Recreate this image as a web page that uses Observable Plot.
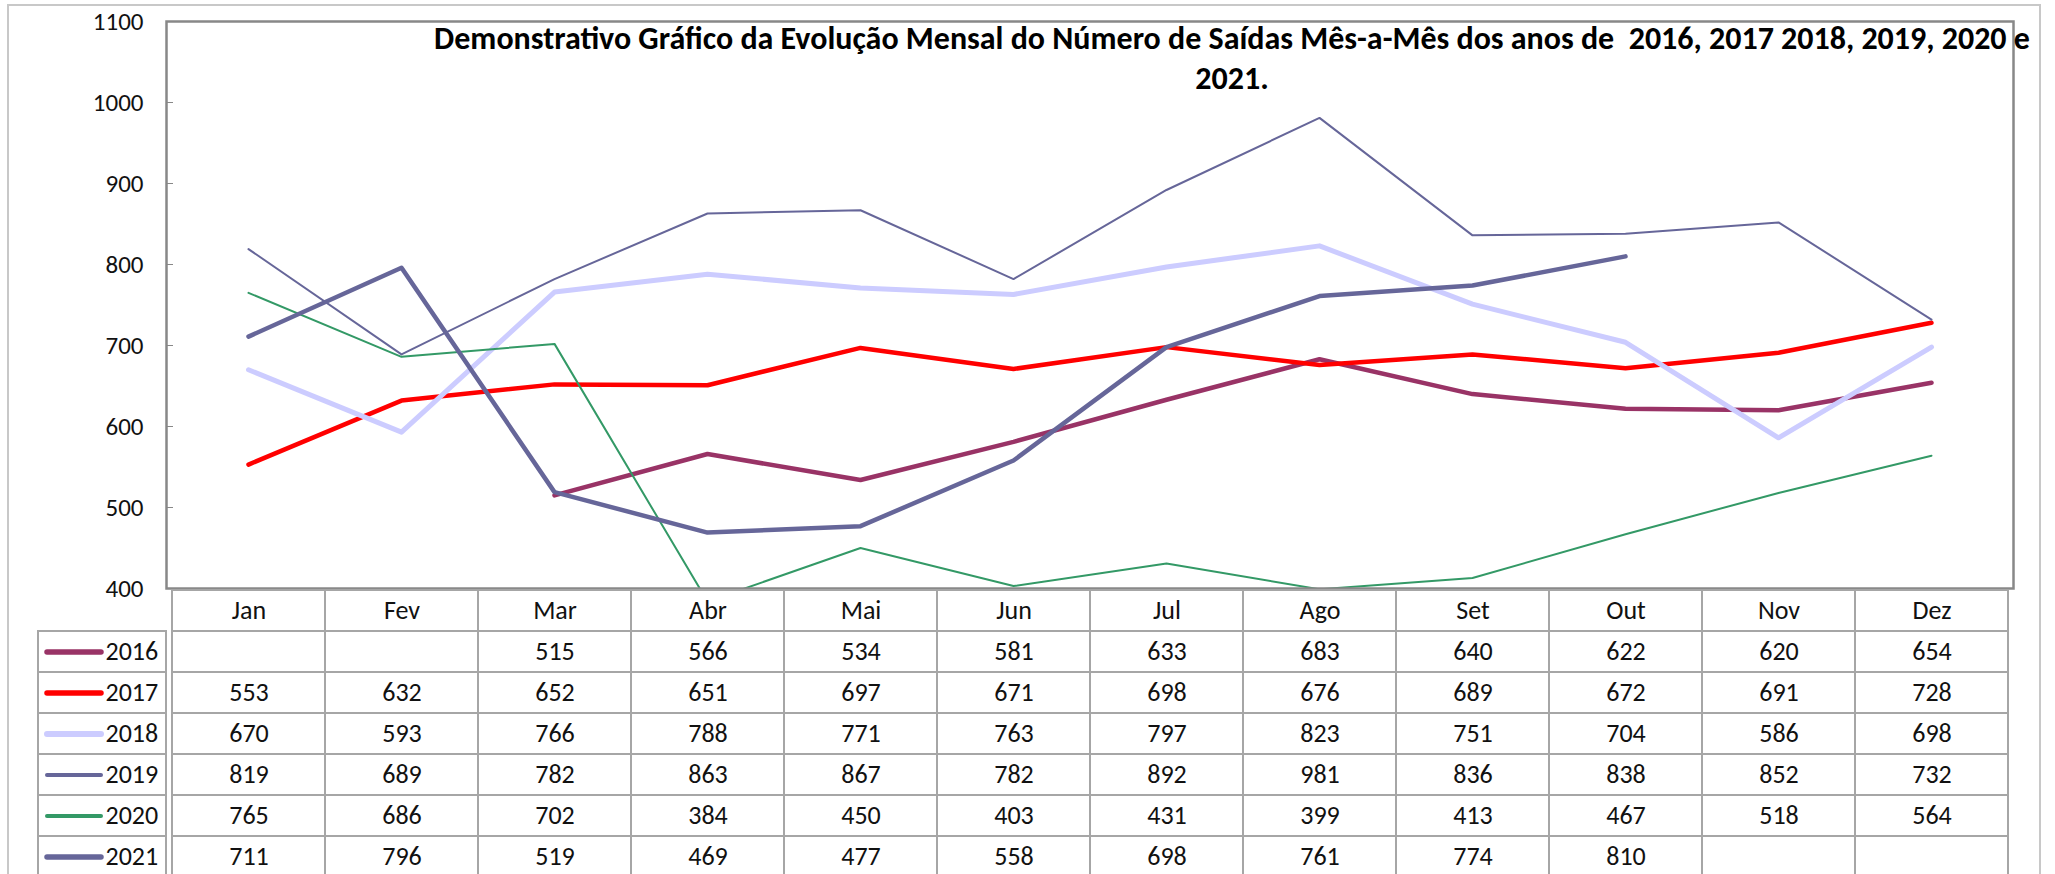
<!DOCTYPE html>
<html>
<head>
<meta charset="utf-8">
<script src="https://cdn.jsdelivr.net/npm/d3@7"></script>
<script src="https://cdn.jsdelivr.net/npm/@observablehq/plot@0.6"></script>
<style>
html, body { margin: 0; padding: 0; background: #fff; }
#root { position: relative; width: 2055px; height: 874px; overflow: hidden; font-family: Carlito, Lato, sans-serif; }
#border { position: absolute; left: 7px; top: 4px; width: 2034px; height: 900px; border: 2px solid #c8c8c8; box-sizing: border-box; }
.layer { position: absolute; }
.layer svg { background: transparent !important; overflow: visible; }
#title { position: absolute; left: 232px; width: 2000px; top: 19px; text-align: center; font-weight: bold; line-height: 40px; white-space: pre; color: #000; }
</style>
</head>
<body>
<div id="root">
  <div id="border"></div>
  <div id="chart" class="layer" style="left:0;top:0"></div>
  <div id="table" class="layer" style="left:0;top:588px"></div>
  <div id="legend" class="layer" style="left:0;top:588px"></div>
  <div id="title"></div>
</div>
<script>
// ---------------- data ----------------
const months = ["Jan", "Fev", "Mar", "Abr", "Mai", "Jun", "Jul", "Ago", "Set", "Out", "Nov", "Dez"];
const years = ["2016", "2017", "2018", "2019", "2020", "2021"];
const s2016 = [null, null, 515, 566, 534, 581, 633, 683, 640, 622, 620, 654];
const s2017 = [553, 632, 652, 651, 697, 671, 698, 676, 689, 672, 691, 728];
const s2018 = [670, 593, 766, 788, 771, 763, 797, 823, 751, 704, 586, 698];
const s2019 = [819, 689, 782, 863, 867, 782, 892, 981, 836, 838, 852, 732];
const s2020 = [765, 686, 702, 384, 450, 403, 431, 399, 413, 467, 518, 564];
const s2021 = [711, 796, 519, 469, 477, 558, 698, 761, 774, 810, null, null];
const yTicks = [400, 500, 600, 700, 800, 900, 1000, 1100];
const titleLines = [
  "Demonstrativo Gráfico da Evolução Mensal do Número de Saídas Mês-a-Mês dos anos de  2016, 2017 2018, 2019, 2020 e",
  "2021."
];

// ---------------- styles ----------------
const seriesList = [s2016, s2017, s2018, s2019, s2020, s2021];
const colors = ["#993366", "#FF0000", "#CCCCFF", "#666699", "#339966", "#666699"];
const widths = [4.5, 4.5, 5, 2, 2, 4.5];
const FONT = "Carlito, Lato, sans-serif";
const GRID = "#a6a6a6";

const records = years.flatMap((yr, i) => months.map((m, j) => ({year: yr, month: m, value: seriesList[i][j]})));

// ---------------- chart ----------------
const chart = Plot.plot({
  width: 2055,
  height: 589,
  marginLeft: 166,
  marginRight: 42,
  marginTop: 21,
  marginBottom: 1,
  style: {background: "transparent", fontFamily: FONT, fontSize: "25px", color: "#000"},
  x: {type: "point", domain: months, padding: 0.5, axis: null},
  y: {domain: [400, 1100], axis: null},
  marks: [
    Plot.axisY(yTicks, {anchor: "left", label: null, tickFormat: d => String(d), tickSize: -7, tickPadding: 30, stroke: "#888", fill: "#111", fontSize: 25}),
    ...years.map((yr, i) => Plot.line(records.filter(d => d.year === yr && d.value != null), {
      x: "month", y: "value", stroke: colors[i], strokeWidth: widths[i], clip: true
    })),
    Plot.frame({stroke: "#888", strokeWidth: 2.5})
  ]
});
document.getElementById("chart").append(chart);

// ---------------- table ----------------
const rowDomain = ["header", ...years];
const rowHeight = 41.5;
const headerCells = months.map(m => ({month: m, row: "header"}));
const valueCells = records.map(d => ({month: d.month, row: d.year, value: d.value}));

const table = Plot.plot({
  width: 2055,
  height: 286,
  marginLeft: 166,
  marginRight: 42,
  marginTop: 0,
  marginBottom: 0,
  style: {background: "transparent", fontFamily: FONT, fontSize: "26px", color: "#000"},
  x: {type: "band", domain: months, padding: 0, axis: null},
  y: {type: "band", domain: rowDomain, range: [0, rowHeight * rowDomain.length], padding: 0, axis: null},
  marks: [
    Plot.cell([...headerCells, ...valueCells], {x: "month", y: "row", fill: "none", stroke: GRID, strokeWidth: 2}),
    Plot.text(headerCells, {x: "month", y: "row", text: "month", fill: "#111"}),
    Plot.text(valueCells, {x: "month", y: "row", text: d => d.value == null ? "" : String(d.value), fill: "#111"})
  ]
});
document.getElementById("table").append(table);

// ---------------- legend column ----------------
const legend = Plot.plot({
  width: 166,
  height: 286,
  marginLeft: 38,
  marginRight: 0,
  marginTop: 0,
  marginBottom: 0,
  style: {background: "transparent", fontFamily: FONT, fontSize: "26px", color: "#000"},
  x: {type: "band", domain: ["legend"], padding: 0, axis: null},
  y: {type: "band", domain: rowDomain, range: [0, rowHeight * rowDomain.length], padding: 0, axis: null},
  marks: [
    Plot.cell(years, {x: () => "legend", y: d => d, fill: "none", stroke: GRID, strokeWidth: 2}),
    ...years.map((yr, i) => Plot.tickY([yr], {y: d => d, stroke: colors[i], strokeWidth: Math.max(widths[i], 3) + 1, strokeLinecap: "round", insetLeft: 9, insetRight: 65})),
    Plot.text(years, {y: d => d, text: d => d, frameAnchor: "left", textAnchor: "start", dx: 67, fill: "#111"})
  ]
});
document.getElementById("legend").append(legend);

// ---------------- title ----------------
const titleEl = document.getElementById("title");
const ctx = document.createElement("canvas").getContext("2d");
ctx.font = "bold 100px " + FONT;
const w100 = ctx.measureText(titleLines[0]).width;
const fs = 100 * 1596 / w100;
titleEl.style.fontSize = fs.toFixed(2) + "px";
titleEl.style.fontFamily = FONT;
titleEl.textContent = titleLines.join("\n");
</script>
</body>
</html>
